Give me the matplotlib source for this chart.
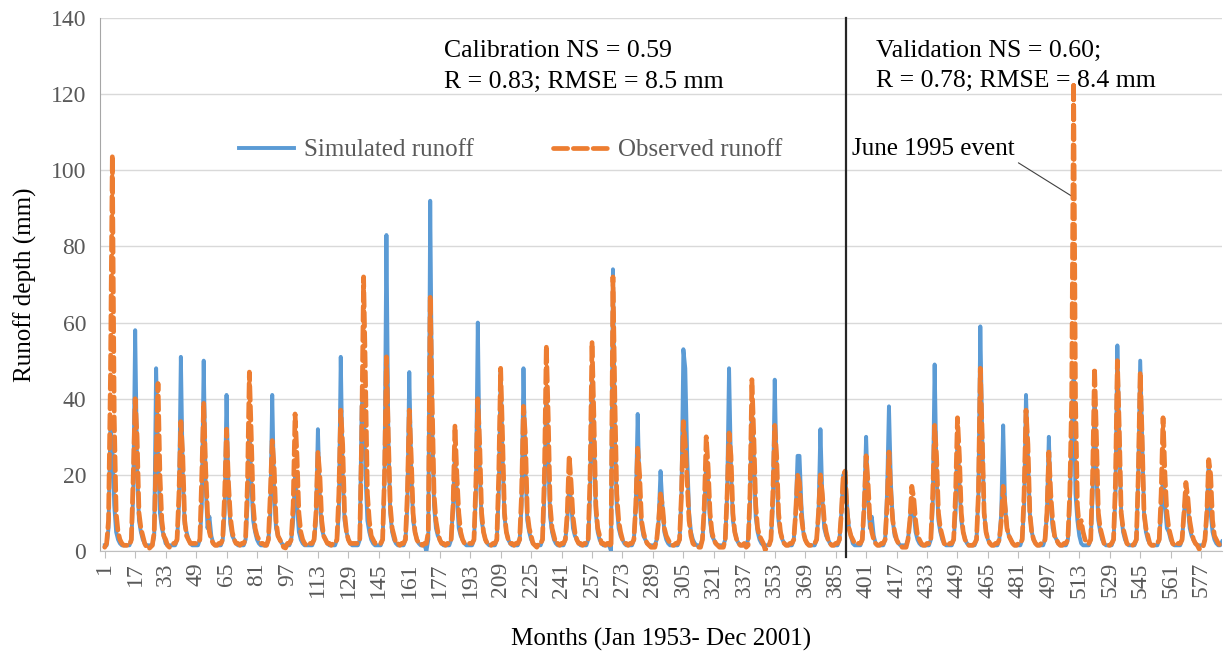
import matplotlib.pyplot as plt
import numpy as np

plt.rcParams['font.family'] = ['Liberation Serif', 'DejaVu Serif']

# monthly runoff (mm), one row per year, Jan 1953 .. Dec 2001
simulated = [
    [1.5, 1.5, 6, 33, 28, 12, 5, 3, 2, 1.5, 1.5, 1.5],      # 1953
    [1.5, 1.5, 3, 15, 58, 22, 8, 5, 3, 2, 1.5, 1.5],
    [1.5, 1.5, 4, 48, 25, 10, 6, 4, 2, 1.5, 1.5, 1.5],
    [1.5, 1.5, 3, 12, 51, 20, 7, 5, 3, 2, 1.5, 1.5],
    [1.5, 1.5, 3, 12, 50, 18, 6, 9, 4, 2, 1.5, 1.5],
    [1.5, 1.5, 3, 10, 41, 16, 7, 4, 3, 2, 1.5, 1.5],
    [1.5, 1.5, 3, 12, 33, 18, 8, 5, 3, 2, 1.5, 1.5],
    [1.5, 1.5, 3, 10, 41, 15, 6, 4, 3, 2, 1.5, 1.5],
    [1.5, 1.5, 3, 8, 20, 12, 5, 3, 2, 1.5, 1.5, 1.5],
    [1.5, 1.5, 3, 8, 32, 14, 6, 4, 3, 2, 1.5, 1.5],
    [1.5, 1.5, 3, 10, 51, 20, 8, 5, 3, 2, 1.5, 1.5],        # 1963
    [1.5, 1.5, 3, 38, 42, 20, 8, 5, 3, 2, 1.5, 1.5],
    [1.5, 1.5, 3, 20, 83, 30, 10, 5, 3, 2, 1.5, 1.5],
    [1.5, 1.5, 3, 12, 47, 22, 8, 5, 3, 2, 1.5, 1.5],
    [1.5, 0, 3, 92, 35, 12, 6, 4, 3, 2, 1.5, 1.5],
    [1.5, 1.5, 3, 12, 26, 14, 6, 4, 3, 2, 1.5, 1.5],
    [1.5, 1.5, 3, 15, 60, 22, 8, 5, 3, 2, 1.5, 1.5],
    [1.5, 1.5, 3, 15, 47, 25, 9, 5, 3, 2, 1.5, 1.5],
    [1.5, 1.5, 3, 12, 48, 22, 8, 5, 3, 2, 1.5, 1.5],
    [1.5, 1.5, 3, 15, 43, 25, 9, 5, 3, 2, 1.5, 1.5],
    [1.5, 1.5, 3, 8, 17, 13, 6, 4, 3, 2, 1.5, 1.5],         # 1973
    [1.5, 1.5, 3, 15, 47, 30, 10, 5, 3, 2, 1.5, 1.5],
    [1.5, 1.5, 0, 74, 30, 12, 6, 4, 3, 2, 1.5, 1.5],
    [1.5, 1.5, 3, 12, 36, 15, 7, 4, 3, 2, 1.5, 1.5],
    [1.5, 1.5, 3, 8, 21, 12, 5, 3, 2, 1.5, 1.5, 1.5],
    [1.5, 1.5, 3, 15, 53, 48, 25, 10, 5, 3, 2, 1.5],
    [1.5, 1.5, 3, 10, 24, 18, 8, 4, 3, 2, 1.5, 1.5],
    [1.5, 1.5, 3, 15, 48, 22, 8, 5, 3, 2, 1.5, 1.5],
    [1.5, 1.5, 3, 12, 38, 25, 9, 5, 3, 2, 1.5, 1.5],
    [1.5, 1.5, 3, 12, 45, 20, 8, 5, 3, 2, 1.5, 1.5],
    [1.5, 1.5, 3, 10, 25, 25, 12, 5, 3, 2, 1.5, 1.5],       # 1983
    [1.5, 1.5, 3, 10, 32, 14, 6, 4, 3, 2, 1.5, 1.5],
    [1.5, 1.5, 3, 10, 20, 20, 12, 6, 4, 2, 1.5, 1.5],
    [1.5, 1.5, 3, 12, 30, 14, 6, 9, 4, 2, 1.5, 1.5],
    [1.5, 1.5, 3, 15, 38, 18, 8, 4, 3, 2, 1.5, 1.5],
    [1.5, 1.5, 3, 8, 14, 10, 5, 3, 2, 1.5, 1.5, 1.5],
    [1.5, 1.5, 3, 12, 49, 20, 8, 5, 3, 2, 1.5, 1.5],
    [1.5, 1.5, 3, 10, 30, 18, 8, 5, 3, 2, 1.5, 1.5],
    [1.5, 1.5, 3, 15, 59, 30, 10, 5, 3, 2, 1.5, 1.5],
    [1.5, 1.5, 3, 10, 33, 12, 6, 4, 3, 2, 1.5, 1.5],
    [1.5, 1.5, 3, 12, 41, 25, 10, 5, 3, 2, 1.5, 1.5],       # 1993
    [1.5, 1.5, 3, 10, 30, 12, 6, 4, 3, 2, 1.5, 1.5],
    [1.5, 1.5, 3, 12, 30, 45, 15, 8, 4, 2, 1.5, 1.5],
    [1.5, 1.5, 3, 15, 40, 20, 8, 5, 3, 2, 1.5, 1.5],
    [1.5, 1.5, 3, 15, 54, 30, 10, 5, 3, 2, 1.5, 1.5],
    [1.5, 1.5, 3, 20, 50, 30, 10, 5, 3, 2, 1.5, 1.5],
    [1.5, 1.5, 3, 10, 20, 12, 6, 5, 3, 2, 1.5, 1.5],
    [1.5, 1.5, 3, 10, 15, 12, 6, 4, 3, 2, 1.5, 1.5],
    [1.5, 1.5, 3, 10, 23, 10, 5, 3, 2, 1.5, 1.5, 2.5],      # 2001
]

observed = [
    [1, 2, 8, 45, 104, 35, 10, 5, 3, 2, 1.5, 1.5],          # 1953
    [1.5, 1.5, 3, 20, 40, 30, 10, 6, 4, 2, 1, 0.5],
    [1, 1.5, 5, 25, 44, 20, 8, 4, 3, 1.5, 1, 1.5],
    [2, 2, 3, 15, 34, 25, 8, 4, 3, 2, 2, 2],
    [2, 2, 3, 20, 39, 22, 10, 5, 3, 2, 1.5, 1.5],
    [2, 2, 3, 15, 32, 18, 9, 5, 3, 2, 2, 1.5],
    [2, 2, 3, 18, 47, 30, 12, 6, 4, 3, 2, 2],
    [1.5, 1.5, 3, 15, 29, 22, 8, 4, 3, 2, 1, 0.8],
    [2, 2, 3, 12, 36, 25, 10, 5, 3, 2, 1.5, 1.5],
    [2, 2, 3, 10, 26, 20, 8, 4, 3, 2, 2, 1.5],
    [2, 2, 3, 15, 37, 28, 10, 5, 3, 2, 2, 2],               # 1963
    [2, 2, 3, 30, 72, 45, 15, 8, 4, 3, 2, 2],
    [2, 2, 3, 20, 51, 30, 12, 6, 4, 2, 2, 1.5],
    [2, 2, 3, 15, 37, 25, 10, 5, 3, 2, 2, 1.5],
    [2, 2, 5, 67, 40, 15, 8, 5, 3, 2, 2, 1.5],
    [2, 2, 3, 12, 33, 20, 10, 5, 3, 2, 2, 2],
    [2, 2, 3, 18, 40, 28, 10, 5, 3, 2, 2, 1.5],
    [2, 2, 3, 20, 48, 30, 10, 5, 3, 2, 2, 1.5],
    [2, 2, 3, 15, 38, 30, 10, 6, 4, 2, 1.5, 1],
    [2, 2, 3, 20, 54, 35, 12, 6, 4, 2, 2, 1.5],
    [2, 2, 3, 10, 25, 18, 9, 5, 3, 2, 2, 1.5],              # 1973
    [2, 2, 3, 20, 55, 35, 12, 6, 4, 2, 2, 1.5],
    [2, 2, 1, 72, 40, 15, 8, 5, 3, 2, 2, 1.5],
    [2, 2, 3, 12, 27, 20, 8, 5, 3, 2, 1.5, 1],
    [1, 1, 3, 8, 15, 12, 6, 4, 3, 2, 1.5, 1.5],
    [2, 2, 3, 15, 34, 28, 18, 8, 4, 2, 1.5, 1],
    [1, 1, 3, 12, 30, 22, 10, 5, 3, 2, 1.5, 1],
    [1, 1, 3, 15, 31, 25, 10, 5, 3, 2, 1.5, 1.5],
    [2, 1, 1.5, 15, 45, 30, 12, 6, 4, 3, 2, 0.3],
    [1, 1.5, 3, 15, 33, 25, 10, 5, 3, 2, 1.5, 1.5],
    [2, 2, 3, 10, 20, 18, 9, 5, 3, 2, 1.5, 1.5],            # 1983
    [2, 2, 3, 10, 20, 15, 8, 5, 3, 2, 1.5, 1.5],
    [2, 2, 3, 10, 20, 21, 10, 6, 4, 3, 2, 2],
    [2, 2, 3, 12, 25, 18, 8, 5, 3, 2, 1.5, 1.5],
    [2, 2, 3, 12, 26, 15, 8, 5, 3, 2, 1.5, 1],
    [1, 1, 3, 8, 17, 14, 8, 4, 3, 2, 1.5, 1.5],
    [2, 2, 3, 15, 33, 25, 10, 6, 4, 2, 1.5, 1.5],
    [2, 2, 3, 15, 35, 25, 10, 5, 3, 2, 1.5, 1.5],
    [1.5, 2, 3, 15, 48, 30, 10, 5, 3, 2, 1.5, 1.5],
    [2, 2, 3, 8, 17, 12, 6, 4, 3, 2, 1.5, 1.5],
    [2, 2, 3, 15, 37, 28, 10, 5, 3, 2, 1.5, 1.5],           # 1993
    [2, 2, 3, 10, 26, 15, 8, 4, 3, 2, 1.5, 1.5],
    [2, 2, 3, 15, 40, 123, 40, 12, 6, 8, 5, 3],
    [2, 2, 3, 20, 48, 30, 10, 6, 4, 2, 1.5, 1.5],
    [1.5, 2, 3, 18, 50, 32, 10, 6, 4, 2, 1.5, 1.5],
    [1.5, 2, 3, 20, 47, 30, 10, 6, 4, 2, 1.5, 1.5],
    [2, 2, 3, 15, 35, 20, 10, 6, 4, 2, 1.5, 1.5],
    [2, 2, 3, 10, 18, 14, 8, 5, 3, 2, 1.5, 0.5],
    [1, 1, 3, 10, 24, 20, 8, 4, 3, 2, 1.5, 1.5],            # 2001
]

sim = np.ravel(simulated)
obs = np.ravel(observed)
months = np.arange(1, len(sim) + 1)
tick_months = np.arange(1, 578, 16)
split_month = 390.5        # calibration / validation boundary
event_month = 510          # June 1995

blue = '#5B9BD5'
orange = '#ED7D31'
grey_txt = '#595959'

fig = plt.figure(figsize=(12.25, 6.57), dpi=100)
ax = fig.add_axes([0.0816, 0.1613, 0.916, 0.8113])

ax.plot(months, sim, color=blue, lw=2.8, label='Simulated runoff',
        solid_joinstyle='round', zorder=3)
ax.plot(months, obs, color=orange, lw=3.4, label='Observed runoff',
        dashes=(3.0, 1.2), dash_capstyle='round', zorder=4)

ax.set_xlim(-1.5, 588)
ax.set_ylim(0, 140)
ax.set_yticks(np.arange(0, 141, 20))
ax.set_xticks(tick_months)
ax.set_xticklabels([str(m) for m in tick_months], rotation=90)
ax.tick_params(axis='x', length=5, color='#bfbfbf', labelsize=17,
               labelcolor=grey_txt, pad=3)
ax.tick_params(axis='y', length=0, labelsize=17, labelcolor=grey_txt, pad=10)
ax.grid(axis='y', color='#d9d9d9', lw=1)
ax.set_axisbelow(True)
for s in ['top', 'right']:
    ax.spines[s].set_visible(False)
ax.spines['left'].set_color('#a6a6a6')
ax.spines['bottom'].set_color('#bfbfbf')

ax.set_ylabel('Runoff depth (mm)', fontsize=18, labelpad=10)
ax.set_xlabel('Months (Jan 1953- Dec 2001)', fontsize=18, labelpad=22)

# calibration / validation divider
ax.axvline(split_month, ymin=-0.012, ymax=1, color='#262626', lw=1.6,
           clip_on=False, zorder=5)

ax.text(179, 134.2, 'Calibration NS = 0.59\nR = 0.83; RMSE = 8.5 mm',
        fontsize=18.5, va='top', ha='left', linespacing=1.5)
ax.text(406, 134.2, 'Validation NS = 0.60;\nR = 0.78; RMSE = 8.4 mm',
        fontsize=18.5, va='top', ha='left', linespacing=1.45)

ax.annotate('June 1995 event', xy=(event_month - 0.3, 93), xytext=(393.5, 105.5),
            fontsize=18, va='center', ha='left',
            arrowprops=dict(arrowstyle='-', color='#404040', lw=0.8,
                            shrinkA=1, shrinkB=0,
                            relpos=(1.0, 0.0)))

ax.legend(loc='center', bbox_to_anchor=(0.366, 0.752), ncol=2, frameon=False,
          fontsize=18, labelcolor=grey_txt, handlelength=2.2,
          columnspacing=3.2, handletextpad=0.4)

fig.savefig('out.png', dpi=100)
